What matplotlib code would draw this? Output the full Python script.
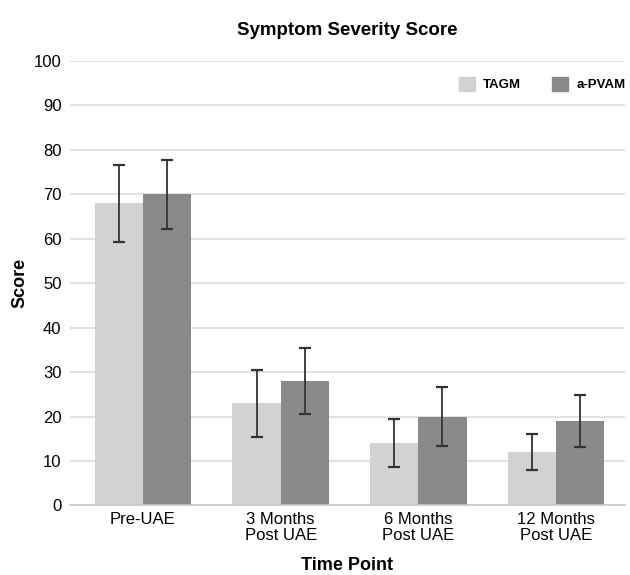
import numpy as np
import matplotlib.pyplot as plt
from matplotlib.patches import Patch

plt.rcParams['font.family'] = ['Liberation Sans', 'DejaVu Sans']

time_points = ['Pre-UAE', '3 Months\nPost UAE', '6 Months\nPost UAE', '12 Months\nPost UAE']
tagm_mean = [68, 23, 14, 12]
tagm_err = [8.7, 7.5, 5.4, 4.0]
pvam_mean = [70, 28, 20, 19]
pvam_err = [7.7, 7.4, 6.6, 5.9]

light = '#d2d2d2'
dark = '#8a8a8a'

fig = plt.figure(figsize=(6.3, 5.75), dpi=100)
ax = fig.add_axes([0.111, 0.121, 0.881, 0.773])

x = np.arange(len(time_points))
w = 0.35
ax.bar(x - w / 2, tagm_mean, w, color=light, zorder=2)
ax.bar(x + w / 2, pvam_mean, w, color=dark, zorder=2)
ax.errorbar(x - w / 2, tagm_mean, yerr=tagm_err, fmt='none', ecolor='#333333',
            elinewidth=1.3, capsize=4, capthick=1.6, zorder=3)
ax.errorbar(x + w / 2, pvam_mean, yerr=pvam_err, fmt='none', ecolor='#333333',
            elinewidth=1.3, capsize=4, capthick=1.6, zorder=3)

ax.set_xlim(-0.53, 3.5)
ax.set_ylim(0, 100)
ax.set_yticks(np.arange(0, 101, 10))
ax.set_xticks(x)
ax.set_xticklabels(time_points, fontsize=12, linespacing=1.05)
ax.tick_params(axis='y', labelsize=12, length=0, pad=6)
ax.tick_params(axis='x', length=0, pad=5)
ax.grid(axis='y', color='#dddddd', linewidth=1.2, zorder=0)
for s in ['top', 'right', 'left']:
    ax.spines[s].set_visible(False)
ax.spines['bottom'].set_color('#c8c8c8')
ax.spines['bottom'].set_linewidth(1.2)

ax.set_ylabel('Score', fontsize=13, fontweight='bold', labelpad=4)
ax.set_xlabel('Time Point', fontsize=13, fontweight='bold', labelpad=10)
ax.set_title('Symptom Severity Score', fontsize=13.5, fontweight='bold', pad=19)

handles = [Patch(color=light, label='TAGM'), Patch(color=dark, label='a-PVAM')]
leg = ax.legend(handles=handles, loc='upper right', bbox_to_anchor=(1.022, 0.99), ncol=2,
                frameon=False, handlelength=1.2, handleheight=1.2, handletextpad=0.6,
                columnspacing=2.4, prop={'size': 9.5, 'weight': 'bold'})

fig.savefig('out.png')
